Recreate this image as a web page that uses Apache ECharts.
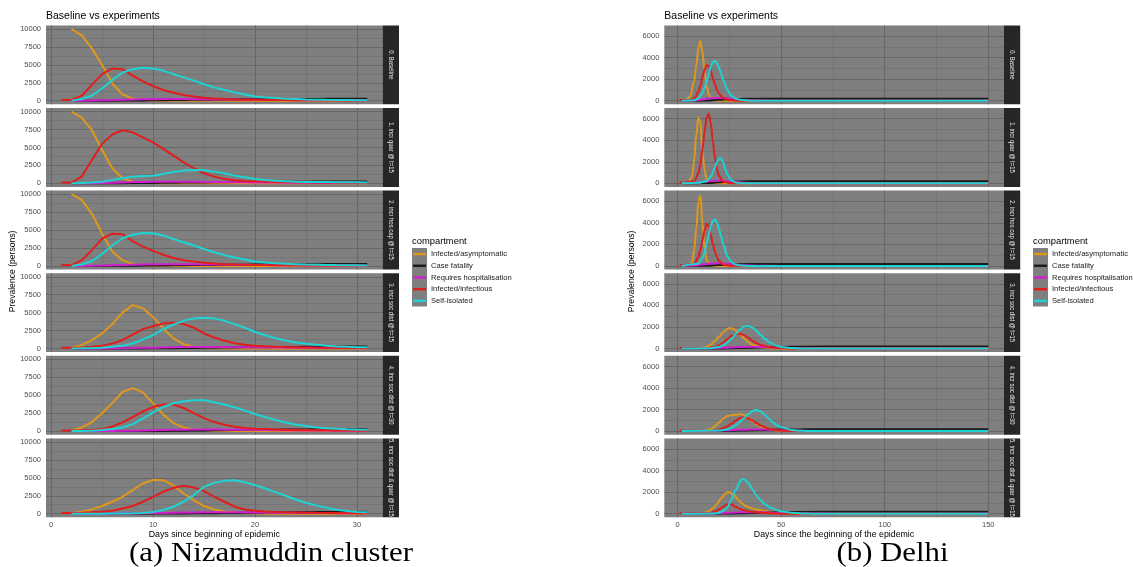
<!DOCTYPE html>
<html>
<head>
<meta charset="utf-8">
<script src="https://cdn.jsdelivr.net/npm/echarts@6.0.0/dist/echarts.min.js"></script>
<style>
  html, body { margin: 0; padding: 0; background: #fff; }
  #chart_fig { width: 1133px; height: 567px; }
</style>
</head>
<body>
<div id="chart_fig"></div>
<script>
var myChart = echarts.init(document.getElementById('chart_fig'));
var fontsty = 'Liberation Sans';

var compartments = ['Infected/asymptomatic', 'Case fatality', 'Requires hospitalisation', 'Infected/infectious', 'Self-isolated'];
var compColors = ['#E0981B', '#1A1A1A', '#D11FCF', '#E01E1E', '#1ED3D3'];
var scenarios = ['0. Baseline', '1. incr quar @ t=15', '2. incr hos cap @ t=15', '3. incr soc dist @ t=15', '4. incr soc dist @ t=30', '5. incr soc dist & quar @ t=15'];

// ---- Nizamuddin cluster (daily values, day 1..31) ----
var nizDays = [1,2,3,4,5,6,7,8,9,10,11,12,13,14,15,16,17,18,19,20,21,22,23,24,25,26,27,28,29,30,31];
var nizXMajor = [0, 10, 20, 30];
var nizXMinor = [5, 15, 25];
var nizYMajor = [0, 2500, 5000, 7500, 10000];
var nizYMinor = [1250, 3750, 6250, 8750];

var nizAsym = [
  [null,10000,9100,7300,5000,2400,880,280,100,30,10,0,0,0,0,0,0,0,0,0,0,0,0,0,0,0,0,0,0,0,0],
  [null,10000,9150,7400,4650,2100,700,230,80,30,10,0,0,0,0,0,0,0,0,0,0,0,0,0,0,0,0,0,0,0,0],
  [null,10000,9200,7300,4500,2000,800,230,80,30,10,0,0,0,0,0,0,0,0,0,0,0,0,0,0,0,0,0,0,0,0],
  [null,100,460,1160,2100,3400,5000,6050,5600,4400,2800,1400,600,230,100,50,20,10,0,0,0,0,0,0,0,0,0,0,0,0,0],
  [null,100,510,1260,2500,3900,5450,6000,5400,3900,2300,1120,510,230,140,60,30,10,0,0,0,0,0,0,0,0,0,0,0,0,0],
  [null,50,280,600,1070,1670,2360,3290,4210,4720,4680,3980,2820,1900,1070,600,320,190,100,50,20,10,0,0,0,0,0,0,0,0,0]
];
var nizFatal = [
  [null,0,0,2,5,10,20,30,45,60,75,90,105,120,135,150,165,180,190,200,210,220,230,240,250,255,260,265,270,275,280],
  [null,0,0,2,5,10,20,30,45,60,75,90,105,118,130,142,154,166,176,186,196,206,215,224,232,240,246,252,257,262,266],
  [null,0,0,2,5,10,18,28,42,56,70,84,98,112,126,140,154,168,178,188,198,208,218,228,236,244,250,256,262,267,272],
  [null,0,0,0,1,2,4,7,12,20,30,42,56,72,90,108,126,144,160,176,190,203,215,226,236,245,253,260,266,271,275],
  [null,0,0,0,1,2,4,7,12,20,30,42,56,72,90,108,126,144,160,176,190,203,215,226,236,245,253,260,266,271,275],
  [null,0,0,0,1,2,3,5,9,14,20,28,38,50,64,80,96,112,128,144,160,174,188,200,212,222,232,240,248,255,262]
];
var nizHosp = [
  [null,0,5,20,50,90,130,170,200,220,230,230,225,215,200,185,170,155,140,125,110,100,90,80,70,60,55,50,45,40,35],
  [null,0,5,20,50,90,130,170,200,220,230,230,225,215,200,185,170,155,140,125,110,100,90,80,70,60,55,50,45,40,35],
  [null,0,5,20,50,90,130,170,200,220,230,230,225,215,200,185,170,155,140,125,110,100,90,80,70,60,55,50,45,40,35],
  [null,0,2,5,10,20,40,60,90,120,150,180,200,210,215,210,200,190,175,160,145,130,115,100,90,80,70,60,55,50,45],
  [null,0,2,5,10,20,40,60,90,120,150,180,200,210,215,210,200,190,175,160,145,130,115,100,90,80,70,60,55,50,45],
  [null,0,2,4,8,15,25,40,60,85,110,135,160,180,195,205,210,205,195,180,165,150,135,120,105,95,85,75,65,58,52]
];
var nizInfect = [
  [150,100,700,2200,3700,4500,4400,3500,2700,2050,1500,1100,800,600,420,320,230,180,150,130,110,100,90,80,70,60,55,50,45,40,35],
  [100,100,930,3250,5500,6800,7400,7100,6400,5700,4800,3860,2930,2100,1400,930,600,420,330,280,240,200,180,160,140,120,100,90,80,70,60],
  [150,100,800,2200,3800,4500,4400,3450,2700,2100,1550,1100,800,600,430,320,240,190,160,140,120,105,95,85,75,65,60,55,50,45,40],
  [100,100,120,230,370,700,1160,1950,2700,3100,3500,3600,3400,2900,2100,1530,1070,740,510,370,300,250,210,180,150,130,115,100,85,70,60],
  [100,100,110,140,280,650,1210,1960,2760,3360,3700,3700,3220,2520,1820,1260,890,610,420,330,280,230,200,170,150,130,115,100,85,70,60],
  [100,100,140,190,280,420,740,1070,1670,2360,3060,3610,3890,3660,3150,2360,1670,970,600,420,320,250,210,180,150,130,115,100,85,75,70]
];
var nizIsol = [
  [null,0,230,700,1700,2900,3900,4400,4600,4500,4200,3700,3250,2800,2300,1860,1490,1160,880,600,460,370,280,230,180,150,120,100,90,80,70],
  [null,0,50,100,230,460,700,930,1020,1070,1300,1580,1770,1860,1810,1630,1400,1070,840,600,470,370,280,230,200,180,170,160,150,140,130],
  [null,0,200,680,1650,2850,3850,4350,4600,4550,4250,3750,3300,2850,2350,1900,1500,1180,900,620,480,380,290,240,190,160,130,110,95,85,75],
  [null,0,20,50,90,230,370,700,1260,1860,2700,3350,3860,4200,4300,4200,3860,3400,2900,2300,1860,1440,1120,840,650,510,370,280,230,190,190],
  [null,0,20,50,140,280,510,980,1730,2620,3360,3880,4160,4300,4300,4020,3700,3320,2850,2380,1960,1540,1210,930,700,520,400,320,260,220,190],
  [null,0,0,5,10,20,30,50,90,230,510,970,1670,2590,3750,4310,4580,4680,4400,3980,3520,3010,2500,1990,1530,1160,830,560,370,230,190]
];

// ---- Delhi ([day, persons]) ----
var delXMajor = [0, 50, 100, 150];
var delXMinor = [25, 75, 125];
var delYMajor = [0, 2000, 4000, 6000];
var delYMinor = [1000, 3000, 5000];

var delAsym = [
  [[2,0],[4,50],[6,400],[8,1800],[9,3300],[10,4900],[11,5550],[12,4500],[13,2700],[14,1300],[15,600],[16,250],[18,50],[20,0],[150,0]],
  [[2,0],[5,50],[7,600],[8,2200],[9,4500],[10,6100],[11,5600],[12,2900],[13,1200],[14,400],[16,80],[18,0],[150,0]],
  [[2,0],[5,50],[7,300],[8,1500],[9,3500],[10,6000],[11,6500],[12,3900],[13,1600],[14,500],[16,80],[18,0],[150,0]],
  [[2,0],[10,20],[14,150],[16,350],[18,700],[20,1100],[22,1500],[24,1800],[25,1900],[26,1880],[28,1700],[30,1350],[32,950],[34,600],[36,350],[40,120],[45,30],[50,0],[150,0]],
  [[2,0],[12,30],[16,200],[18,450],[20,800],[22,1150],[24,1400],[26,1480],[28,1520],[30,1560],[32,1500],[34,1250],[36,950],[38,650],[40,420],[44,150],[48,50],[55,0],[150,0]],
  [[2,0],[12,30],[15,200],[17,500],[19,900],[21,1400],[23,1850],[24,2000],[25,2000],[27,1750],[29,1350],[31,950],[33,700],[35,550],[38,400],[42,250],[46,120],[50,50],[55,0],[150,0]]
];
var delFatal = [
  [[2,0],[10,5],[15,30],[20,80],[25,130],[30,165],[40,185],[60,190],[150,190]],
  [[2,0],[10,5],[15,30],[20,90],[25,140],[30,170],[40,190],[60,195],[150,195]],
  [[2,0],[10,5],[15,30],[20,80],[25,130],[30,160],[40,180],[60,185],[150,185]],
  [[2,0],[20,10],[30,50],[40,110],[50,150],[60,170],[80,180],[150,182]],
  [[2,0],[20,10],[30,50],[40,110],[50,150],[60,170],[80,180],[150,182]],
  [[2,0],[20,10],[30,45],[40,100],[50,140],[60,165],[80,178],[150,180]]
];
var delHosp = [
  [[2,0],[8,30],[12,120],[16,220],[20,250],[24,200],[28,120],[32,60],[40,15],[50,0],[150,0]],
  [[2,0],[8,30],[12,120],[16,220],[20,250],[24,200],[28,120],[32,60],[40,15],[50,0],[150,0]],
  [[2,0],[8,30],[12,120],[16,220],[20,250],[24,200],[28,120],[32,60],[40,15],[50,0],[150,0]],
  [[2,0],[16,20],[24,80],[30,140],[36,160],[42,130],[50,70],[60,20],[75,0],[150,0]],
  [[2,0],[16,20],[24,70],[30,120],[36,150],[42,140],[50,80],[60,25],[75,0],[150,0]],
  [[2,0],[16,20],[24,90],[30,140],[36,150],[42,120],[50,60],[60,20],[75,0],[150,0]]
];
var delInfect = [
  [[1,100],[2,50],[6,50],[8,200],[10,800],[11,1400],[12,2200],[13,2900],[14,3300],[15,3250],[16,2800],[17,2100],[18,1500],[19,1000],[20,650],[22,250],[25,60],[30,0],[150,0]],
  [[1,100],[2,50],[8,200],[10,900],[11,1800],[12,3200],[13,4800],[14,6100],[15,6450],[16,5600],[17,3900],[18,2400],[19,1300],[20,650],[22,150],[25,20],[30,0],[150,0]],
  [[1,100],[2,50],[8,200],[10,800],[11,1500],[12,2400],[13,3300],[14,3900],[15,3700],[16,2900],[17,2000],[18,1300],[19,800],[20,450],[22,120],[25,20],[30,0],[150,0]],
  [[1,100],[2,30],[14,30],[18,150],[20,300],[22,550],[24,850],[26,1150],[28,1350],[30,1380],[32,1250],[34,1000],[36,750],[38,500],[40,330],[45,100],[50,30],[55,0],[150,0]],
  [[1,100],[2,30],[16,30],[20,150],[22,280],[24,450],[26,700],[28,950],[30,1200],[32,1280],[34,1200],[36,1000],[38,750],[40,520],[44,220],[48,80],[55,0],[150,0]],
  [[1,100],[2,30],[15,50],[18,200],[20,400],[22,650],[24,880],[25,900],[26,850],[28,650],[30,450],[32,320],[35,200],[40,100],[45,50],[50,0],[150,0]]
];
var delIsol = [
  [[2,0],[8,50],[10,200],[12,700],[13,1200],[14,1800],[15,2500],[16,3200],[17,3600],[18,3700],[19,3500],[20,3000],[21,2500],[22,1900],[24,1000],[26,450],[28,200],[30,80],[35,0],[150,0]],
  [[2,0],[10,50],[14,200],[16,600],[17,1000],[18,1500],[19,2000],[20,2300],[21,2300],[22,1900],[23,1300],[24,800],[26,250],[28,80],[30,0],[150,0]],
  [[2,0],[10,200],[12,700],[13,1300],[14,2100],[15,2900],[16,3700],[17,4200],[18,4300],[19,4000],[20,3400],[21,2700],[22,2000],[24,900],[26,350],[28,120],[30,40],[35,0],[150,0]],
  [[2,0],[16,30],[20,150],[22,300],[24,550],[26,900],[28,1350],[30,1750],[32,2050],[34,2100],[36,1950],[38,1650],[40,1250],[42,900],[45,500],[48,250],[50,150],[55,40],[60,0],[150,0]],
  [[2,0],[20,50],[24,150],[26,300],[28,550],[30,850],[32,1200],[34,1550],[36,1850],[38,1970],[40,1850],[42,1550],[44,1150],[46,800],[48,550],[50,350],[55,100],[60,30],[65,0],[150,0]],
  [[2,0],[18,30],[20,100],[22,250],[24,600],[26,1300],[28,2200],[30,2950],[31,3200],[32,3200],[34,2900],[36,2300],[38,1700],[40,1250],[42,900],[45,550],[48,320],[50,220],[55,80],[60,30],[65,0],[150,0]]
];

// layout of the two facet columns
var rowTop = 25.4, rowStep = 82.6, rowHeight = 78.9, stripW = 16.5;
var panels = [
  {left: 46, width: 336.5, xMin: -0.5, xMax: 32.5, yMin: -500, yMax: 10500,
   xMajor: nizXMajor, xMinor: nizXMinor, yMajor: nizYMajor, yMinor: nizYMinor,
   data: [nizAsym, nizFatal, nizHosp, nizInfect, nizIsol], smooth: false,
   xName: 'Days since beginning of epidemic', legendLeft: 412,
   caption: '(a) Nizamuddin cluster', captionX: 271},
  {left: 664.3, width: 339.4, xMin: -6.45, xMax: 157.45, yMin: -333, yMax: 6987,
   xMajor: delXMajor, xMinor: delXMinor, yMajor: delYMajor, yMinor: delYMinor,
   data: [delAsym, delFatal, delHosp, delInfect, delIsol], smooth: 0.35,
   xName: 'Days since the beginning of the epidemic', legendLeft: 1033,
   caption: '(b) Delhi', captionX: 892.5}
];

function plainNum(v) { return String(v); }

var grids = [], xAxes = [], yAxes = [], series = [], graphics = [], titles = [], legends = [];

panels.forEach(function(p, pi) {
  for (var r = 0; r < 6; r++) {
    var gi = pi * 6 + r;
    var top = rowTop + r * rowStep;
    var last = (r == 5);
    grids.push({left: p.left, top: top, width: p.width, height: rowHeight,
      show: true, backgroundColor: '#7F7F7F', borderWidth: 0});
    xAxes.push({
      type: 'value', gridIndex: gi, min: p.xMin, max: p.xMax,
      axisLine: {show: false},
      axisTick: {show: last, customValues: p.xMajor, length: 3, lineStyle: {color: '#333333', width: 0.8}},
      axisLabel: {show: last, customValues: p.xMajor, formatter: plainNum, fontSize: 7.5, color: '#4D4D4D', margin: 4, fontFamily: fontsty},
      splitLine: {show: false},
      name: last ? p.xName : '', nameLocation: 'middle', nameGap: 12,
      nameTextStyle: {fontSize: 8.8, color: '#000', fontFamily: fontsty}
    });
    yAxes.push({
      type: 'value', gridIndex: gi, min: p.yMin, max: p.yMax,
      axisLine: {show: false},
      axisTick: {show: true, customValues: p.yMajor, length: 3, lineStyle: {color: '#333333', width: 0.8}},
      axisLabel: {customValues: p.yMajor, formatter: plainNum, fontSize: 7.5, color: '#4D4D4D', margin: 5, fontFamily: fontsty},
      splitLine: {show: false}
    });
    // grid lines of the dark theme, placed on the data scale
    var gl = [];
    p.xMinor.forEach(function(v) { gl.push({xAxis: v, lineStyle: {width: 0.6, color: '#6E6E6E'}}); });
    p.yMinor.forEach(function(v) { gl.push({yAxis: v, lineStyle: {width: 0.6, color: '#6E6E6E'}}); });
    p.xMajor.forEach(function(v) { gl.push({xAxis: v, lineStyle: {width: 1.1, color: '#676767'}}); });
    p.yMajor.forEach(function(v) { gl.push({yAxis: v, lineStyle: {width: 1.1, color: '#676767'}}); });
    series.push({
      type: 'line', xAxisIndex: gi, yAxisIndex: gi, data: [], silent: true, z: 1,
      markLine: {silent: true, symbol: 'none', z: 1, animation: false, label: {show: false},
        lineStyle: {type: 'solid'}, emphasis: {disabled: true}, data: gl}
    });
    for (var k = 0; k < 5; k++) {
      var rowVals = p.data[k][r];
      var pts = (pi == 0) ? nizDays.map(function(d, j) { return [d, rowVals[j]]; }) : rowVals;
      series.push({
        type: 'line', name: compartments[k], xAxisIndex: gi, yAxisIndex: gi,
        data: pts, symbol: 'none', showSymbol: false, smooth: p.smooth, smoothMonotone: 'x',
        lineStyle: {width: 2, color: compColors[k]}, itemStyle: {color: compColors[k]},
        z: 3, animation: false
      });
    }
    // facet strip
    graphics.push({type: 'rect', z: 5, shape: {x: p.left + p.width, y: top, width: stripW, height: rowHeight},
      style: {fill: '#262626'}});
    graphics.push({type: 'text', z: 6, x: p.left + p.width + stripW / 2, y: top + rowHeight / 2,
      rotation: -Math.PI / 2, scaleX: 0.74,
      style: {text: scenarios[r], fill: '#E5E5E5', font: '8px "Liberation Sans"', align: 'center', verticalAlign: 'middle'}});
  }
  titles.push({text: 'Baseline vs experiments', left: p.left, top: 10.5, padding: 0,
    textStyle: {fontSize: 10.5, fontWeight: 'normal', color: '#000', fontFamily: fontsty}});
  titles.push({text: 'compartment', left: p.legendLeft, top: 237, padding: 0,
    textStyle: {fontSize: 9.4, fontWeight: 'normal', color: '#000', fontFamily: fontsty}});
  legends.push({
    data: compartments, orient: 'vertical', left: p.legendLeft + 1, top: 248.2, padding: 0,
    icon: 'rect', itemWidth: 13, itemHeight: 2.4, itemGap: 0, selectedMode: false,
    textStyle: {fontSize: 7.6, lineHeight: 11.7, color: '#1A1A1A', fontFamily: fontsty}
  });
  graphics.push({type: 'rect', z: 0, shape: {x: p.legendLeft, y: 248, width: 15, height: 58.5},
    style: {fill: '#7F7F7F'}});
  graphics.push({type: 'text', z: 6, x: p.left - 33, y: rowTop + 3 * rowStep - 1.8,
    rotation: Math.PI / 2,
    style: {text: 'Prevalence (persons)', fill: '#000', font: '8.6px "Liberation Sans"', align: 'center', verticalAlign: 'middle'}});
  graphics.push({type: 'text', z: 6, x: p.captionX, y: 554, scaleX: 1.12,
    style: {text: p.caption, fill: '#000', font: '27.5px "Liberation Serif"', align: 'center', verticalAlign: 'middle'}});
});

var option = {
  animation: false,
  backgroundColor: '#FFFFFF',
  title: titles,
  legend: legends,
  grid: grids,
  xAxis: xAxes,
  yAxis: yAxes,
  series: series,
  graphic: {elements: graphics}
};
myChart.setOption(option);
</script>
</body>
</html>
